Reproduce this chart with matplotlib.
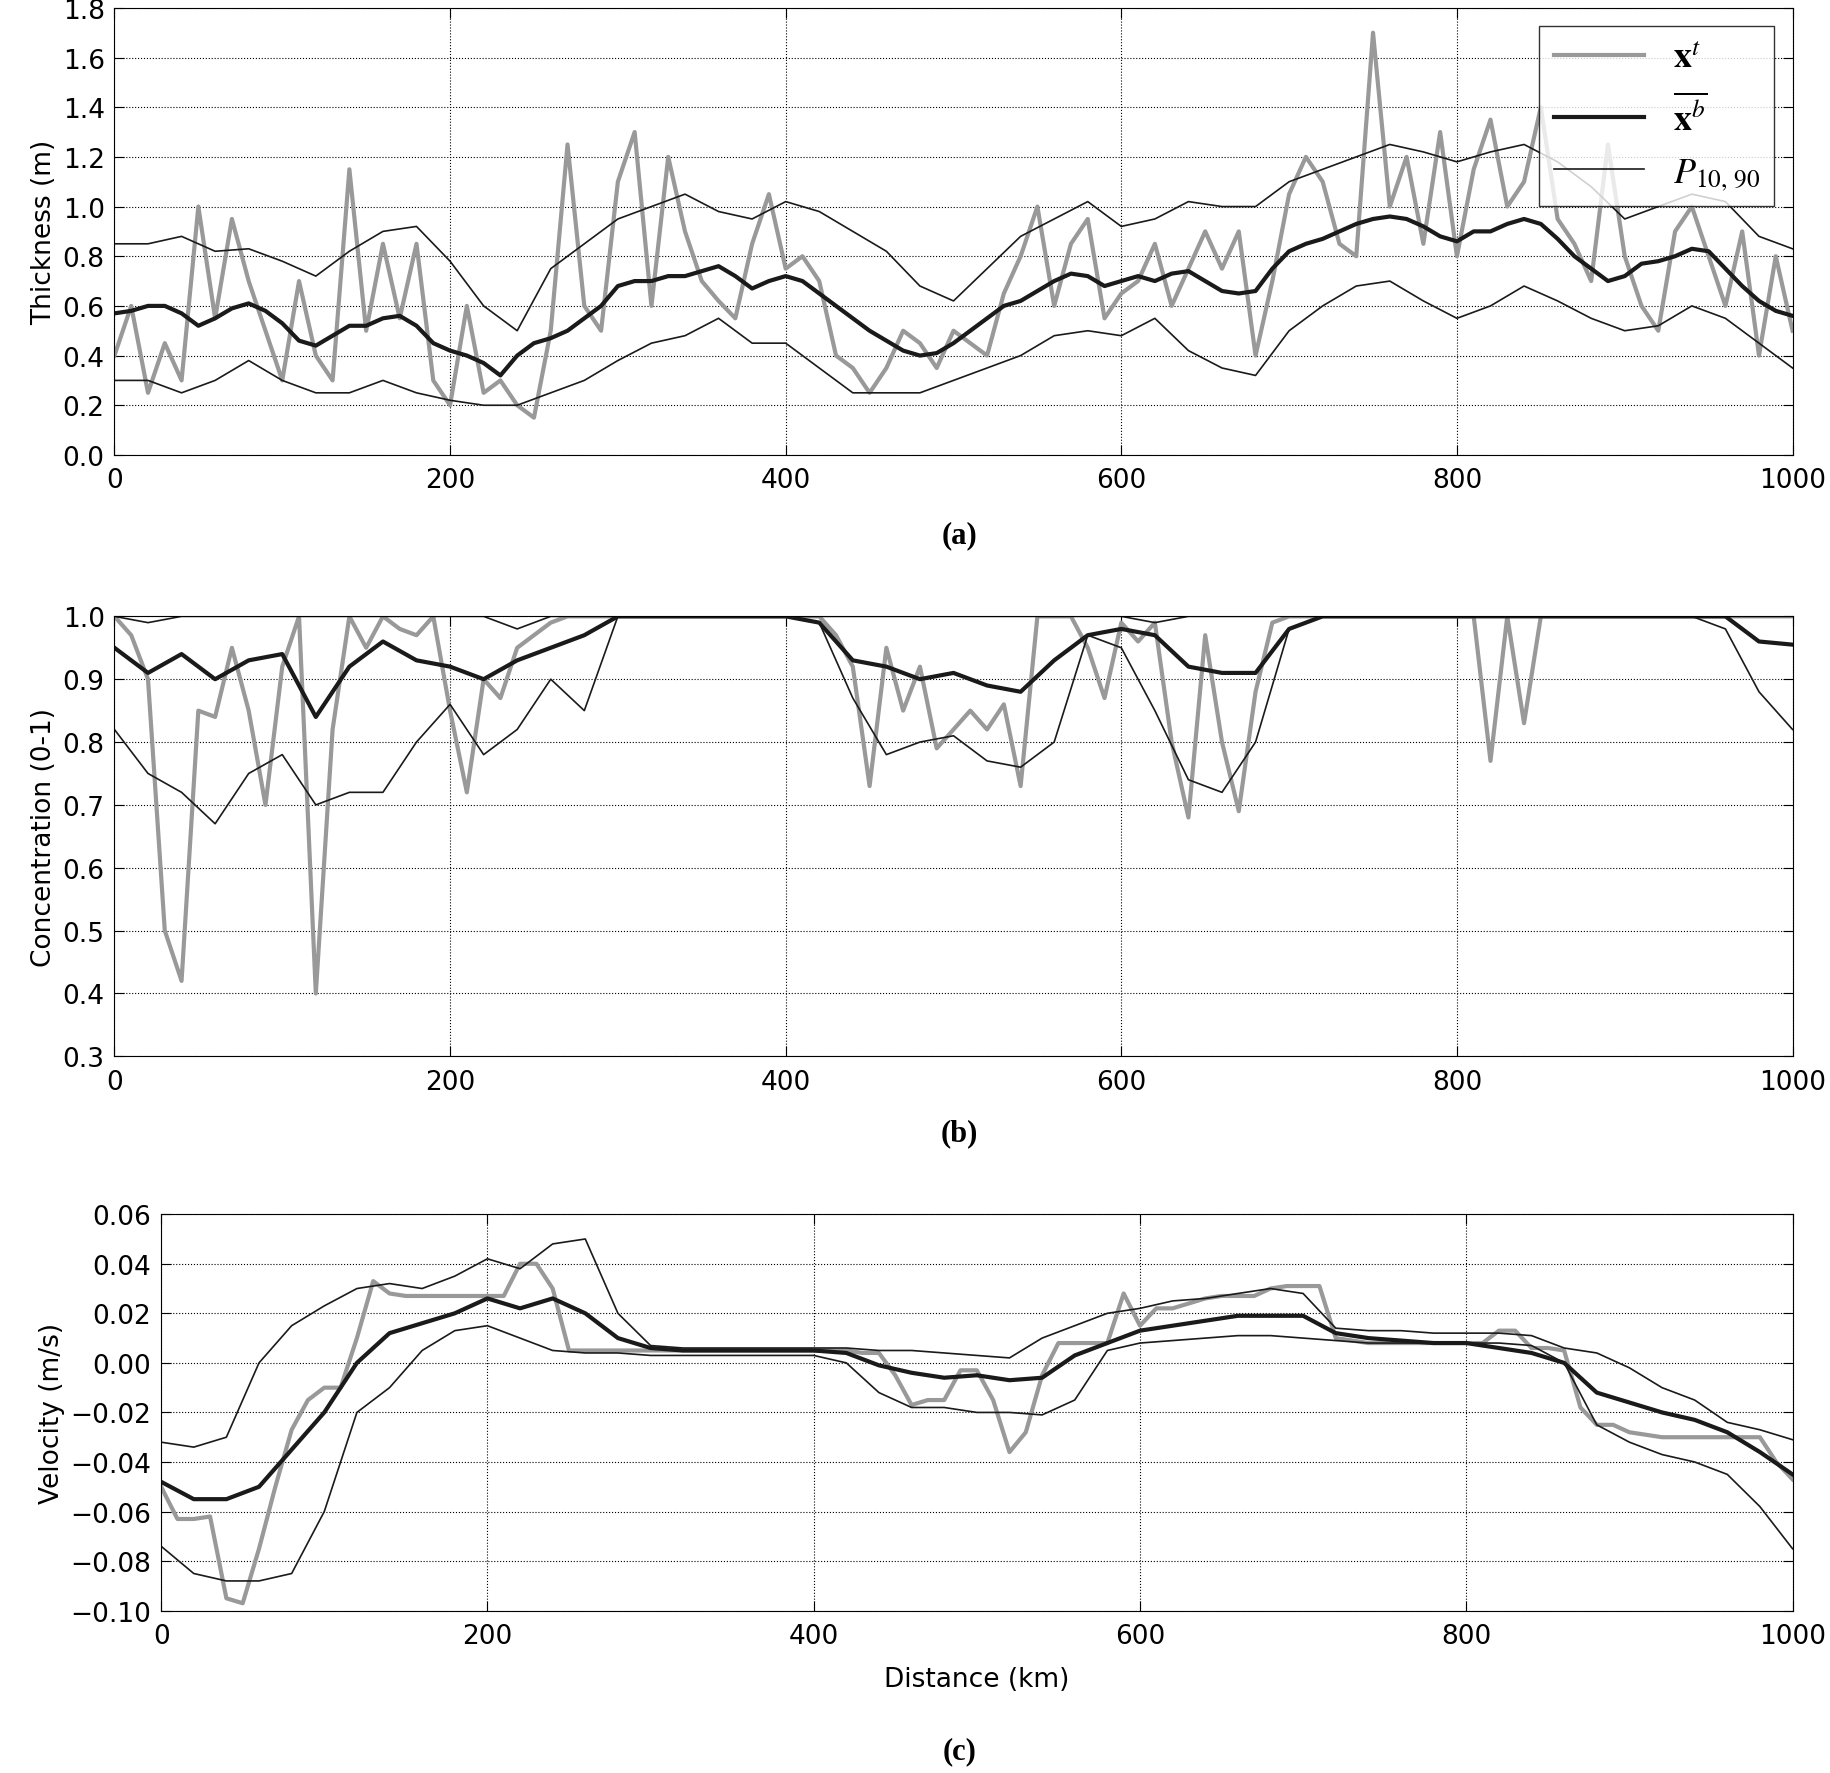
import numpy as np
import matplotlib.pyplot as plt

plt.rcParams['font.size'] = 19
plt.rcParams['mathtext.fontset'] = 'stix'
plt.rcParams['xtick.direction'] = 'in'
plt.rcParams['ytick.direction'] = 'in'
plt.rcParams['xtick.top'] = True
plt.rcParams['ytick.right'] = True
plt.rcParams['xtick.major.pad'] = 9
plt.rcParams['ytick.major.pad'] = 7
plt.rcParams['xtick.major.size'] = 7
plt.rcParams['ytick.major.size'] = 7

# (a) thickness
thick_mean = [0.57, 0.58, 0.6, 0.6, 0.57, 0.52, 0.55, 0.59, 0.61, 0.58, 0.53, 0.46, 0.44, 0.48, 0.52, 0.52, 0.55,
              0.56, 0.52, 0.45, 0.42, 0.4, 0.37, 0.32, 0.4, 0.45, 0.47, 0.5, 0.55, 0.6, 0.68, 0.7, 0.7, 0.72, 0.72,
              0.74, 0.76, 0.72, 0.67, 0.7, 0.72, 0.7, 0.65, 0.6, 0.55, 0.5, 0.46, 0.42, 0.4, 0.41, 0.45, 0.5, 0.55,
              0.6, 0.62, 0.66, 0.7, 0.73, 0.72, 0.68, 0.7, 0.72, 0.7, 0.73, 0.74, 0.7, 0.66, 0.65, 0.66, 0.75, 0.82,
              0.85, 0.87, 0.9, 0.93, 0.95, 0.96, 0.95, 0.92, 0.88, 0.86, 0.9, 0.9, 0.93, 0.95, 0.93, 0.87, 0.8, 0.75,
              0.7, 0.72, 0.77, 0.78, 0.8, 0.83, 0.82, 0.75, 0.68, 0.62, 0.58, 0.56]
thick_p90 = [0.85, 0.85, 0.88, 0.82, 0.83, 0.78, 0.72, 0.82, 0.9, 0.92, 0.78, 0.6, 0.5, 0.75, 0.85, 0.95, 1.0, 1.05,
             0.98, 0.95, 1.02, 0.98, 0.9, 0.82, 0.68, 0.62, 0.75, 0.88, 0.95, 1.02, 0.92, 0.95, 1.02, 1.0, 1.0, 1.1,
             1.15, 1.2, 1.25, 1.22, 1.18, 1.22, 1.25, 1.18, 1.08, 0.95, 1.0, 1.05, 1.02, 0.88, 0.83]
thick_p10 = [0.3, 0.3, 0.25, 0.3, 0.38, 0.3, 0.25, 0.25, 0.3, 0.25, 0.22, 0.2, 0.2, 0.25, 0.3, 0.38, 0.45, 0.48,
             0.55, 0.45, 0.45, 0.35, 0.25, 0.25, 0.25, 0.3, 0.35, 0.4, 0.48, 0.5, 0.48, 0.55, 0.42, 0.35, 0.32, 0.5,
             0.6, 0.68, 0.7, 0.62, 0.55, 0.6, 0.68, 0.62, 0.55, 0.5, 0.52, 0.6, 0.55, 0.45, 0.35]
thick_true = [0.4, 0.6, 0.25, 0.45, 0.3, 1.0, 0.55, 0.95, 0.7, 0.5, 0.3, 0.7, 0.4, 0.3, 1.15, 0.5, 0.85, 0.55, 0.85,
              0.3, 0.2, 0.6, 0.25, 0.3, 0.2, 0.15, 0.5, 1.25, 0.6, 0.5, 1.1, 1.3, 0.6, 1.2, 0.9, 0.7, 0.62, 0.55,
              0.85, 1.05, 0.75, 0.8, 0.7, 0.4, 0.35, 0.25, 0.35, 0.5, 0.45, 0.35, 0.5, 0.45, 0.4, 0.65, 0.8, 1.0,
              0.6, 0.85, 0.95, 0.55, 0.65, 0.7, 0.85, 0.6, 0.75, 0.9, 0.75, 0.9, 0.4, 0.7, 1.05, 1.2, 1.1, 0.85,
              0.8, 1.7, 1.0, 1.2, 0.85, 1.3, 0.8, 1.15, 1.35, 1.0, 1.1, 1.4, 0.95, 0.85, 0.7, 1.25, 0.8, 0.6, 0.5,
              0.9, 1.0, 0.8, 0.6, 0.9, 0.4, 0.8, 0.5]

# (b) concentration
conc_mean = [0.95, 0.91, 0.94, 0.9, 0.93, 0.94, 0.84, 0.92, 0.96, 0.93, 0.92, 0.9, 0.93, 0.95, 0.97, 1.0, 1.0, 1.0,
             1.0, 1.0, 1.0, 0.99, 0.93, 0.92, 0.9, 0.91, 0.89, 0.88, 0.93, 0.97, 0.98, 0.97, 0.92, 0.91, 0.91, 0.98,
             1.0, 1.0, 1.0, 1.0, 1.0, 1.0, 1.0, 1.0, 1.0, 1.0, 1.0, 1.0, 1.0, 0.96, 0.955]
conc_p90 = [1.0, 0.99, 1.0, 1.0, 1.0, 1.0, 1.0, 1.0, 1.0, 1.0, 1.0, 1.0, 0.98, 1.0, 1.0, 1.0, 1.0, 1.0, 1.0, 1.0,
            1.0, 1.0, 1.0, 1.0, 1.0, 1.0, 1.0, 1.0, 1.0, 1.0, 1.0, 0.99, 1.0, 1.0, 1.0, 1.0, 1.0, 1.0, 1.0, 1.0,
            1.0, 1.0, 1.0, 1.0, 1.0, 1.0, 1.0, 1.0, 1.0, 1.0, 1.0]
conc_p10 = [0.82, 0.75, 0.72, 0.67, 0.75, 0.78, 0.7, 0.72, 0.72, 0.8, 0.86, 0.78, 0.82, 0.9, 0.85, 1.0, 1.0, 1.0,
            1.0, 1.0, 1.0, 0.99, 0.87, 0.78, 0.8, 0.81, 0.77, 0.76, 0.8, 0.97, 0.95, 0.85, 0.74, 0.72, 0.8, 0.98,
            1.0, 1.0, 1.0, 1.0, 1.0, 1.0, 1.0, 1.0, 1.0, 1.0, 1.0, 1.0, 0.98, 0.88, 0.82]
conc_true = [1.0, 0.97, 0.9, 0.5, 0.42, 0.85, 0.84, 0.95, 0.85, 0.7, 0.92, 1.0, 0.4, 0.82, 1.0, 0.95, 1.0, 0.98,
             0.97, 1.0, 0.85, 0.72, 0.9, 0.87, 0.95, 0.97, 0.99, 1.0, 1.0, 1.0, 1.0, 1.0, 1.0, 1.0, 1.0, 1.0, 1.0,
             1.0, 1.0, 1.0, 1.0, 1.0, 1.0, 0.97, 0.92, 0.73, 0.95, 0.85, 0.92, 0.79, 0.82, 0.85, 0.82, 0.86, 0.73,
             1.0, 1.0, 1.0, 0.95, 0.87, 0.99, 0.96, 0.99, 0.8, 0.68, 0.97, 0.8, 0.69, 0.88, 0.99, 1.0, 1.0, 1.0,
             1.0, 1.0, 1.0, 1.0, 1.0, 1.0, 1.0, 1.0, 1.0, 0.77, 1.0, 0.83, 1.0, 1.0, 1.0, 1.0, 1.0, 1.0, 1.0, 1.0,
             1.0, 1.0, 1.0, 1.0, 1.0, 1.0, 1.0, 1.0]

# (c) velocity
vel_mean = [-0.048, -0.055, -0.055, -0.05, -0.035, -0.02, 0.0, 0.012, 0.016, 0.02, 0.026, 0.022, 0.026, 0.02, 0.01,
            0.006, 0.005, 0.005, 0.005, 0.005, 0.005, 0.004, -0.001, -0.004, -0.006, -0.005, -0.007, -0.006, 0.003,
            0.008, 0.013, 0.015, 0.017, 0.019, 0.019, 0.019, 0.012, 0.01, 0.009, 0.008, 0.008, 0.006, 0.004, 0.0,
            -0.012, -0.016, -0.02, -0.023, -0.028, -0.036, -0.045]
vel_p90 = [-0.032, -0.034, -0.03, 0.0, 0.015, 0.023, 0.03, 0.032, 0.03, 0.035, 0.042, 0.038, 0.048, 0.05, 0.02,
           0.007, 0.006, 0.006, 0.006, 0.006, 0.006, 0.006, 0.005, 0.005, 0.004, 0.003, 0.002, 0.01, 0.015, 0.02,
           0.022, 0.025, 0.026, 0.028, 0.03, 0.028, 0.014, 0.013, 0.013, 0.012, 0.012, 0.012, 0.011, 0.006, 0.004,
           -0.002, -0.01, -0.015, -0.024, -0.027, -0.031]
vel_p10 = [-0.074, -0.085, -0.088, -0.088, -0.085, -0.06, -0.02, -0.01, 0.005, 0.013, 0.015, 0.01, 0.005, 0.004,
           0.004, 0.003, 0.003, 0.003, 0.003, 0.003, 0.003, 0.0, -0.012, -0.018, -0.018, -0.02, -0.02, -0.021,
           -0.015, 0.005, 0.008, 0.009, 0.01, 0.011, 0.011, 0.01, 0.009, 0.008, 0.008, 0.008, 0.008, 0.008, 0.007,
           0.0, -0.025, -0.032, -0.037, -0.04, -0.045, -0.058, -0.075]
vel_true = [-0.05, -0.063, -0.063, -0.062, -0.095, -0.097, -0.075, -0.05, -0.027, -0.015, -0.01, -0.01, 0.01,
            0.033, 0.028, 0.027, 0.027, 0.027, 0.027, 0.027, 0.027, 0.027, 0.04, 0.04, 0.03, 0.005, 0.005, 0.005,
            0.005, 0.005, 0.005, 0.005, 0.005, 0.005, 0.005, 0.005, 0.005, 0.005, 0.005, 0.005, 0.005, 0.005,
            0.005, 0.004, 0.004, -0.005, -0.017, -0.015, -0.015, -0.003, -0.003, -0.015, -0.036, -0.028, -0.005,
            0.008, 0.008, 0.008, 0.008, 0.028, 0.015, 0.022, 0.022, 0.024, 0.026, 0.027, 0.027, 0.027, 0.03, 0.031,
            0.031, 0.031, 0.01, 0.009, 0.008, 0.008, 0.008, 0.008, 0.008, 0.008, 0.008, 0.008, 0.013, 0.013, 0.006,
            0.006, 0.005, -0.018, -0.025, -0.025, -0.028, -0.029, -0.03, -0.03, -0.03, -0.03, -0.03, -0.03, -0.03,
            -0.04, -0.047]

fig = plt.figure(figsize=(18.31, 17.74), dpi=100)
axa = fig.add_axes([0.0625, 0.743, 0.9165, 0.252])
axb = fig.add_axes([0.0625, 0.404, 0.9165, 0.248])
axc = fig.add_axes([0.088, 0.0915, 0.891, 0.2235])


def dist(vals):
    # distances of the samples along the line, 0 to 1000 km
    return np.linspace(0, 1000, len(vals))


gray = '#999999'
for ax, tr, mn, lo, hi in [(axa, thick_true, thick_mean, thick_p10, thick_p90),
                           (axb, conc_true, conc_mean, conc_p10, conc_p90),
                           (axc, vel_true, vel_mean, vel_p10, vel_p90)]:
    ax.plot(dist(tr), tr, color=gray, lw=3, label=r'$\mathbf{x}^t$')
    ax.plot(dist(mn), mn, color='#1a1a1a', lw=3, label=r'$\overline{\mathbf{x}^b}$')
    ax.plot(dist(lo), lo, color='#1a1a1a', lw=1.2, label=r'$P_{10,\,90}$')
    ax.plot(dist(hi), hi, color='#1a1a1a', lw=1.2)
    ax.set_xlim(0, 1000)
    ax.grid(True, color='black', linestyle=':', lw=0.8)

axa.set_ylim(0, 1.8)
axa.set_yticks(np.arange(0, 1.81, 0.2))
axa.set_ylabel('Thickness (m)')
axa.legend(loc='upper right', fontsize=26, fancybox=False, edgecolor='black', handlelength=2.5)
axb.set_ylim(0.3, 1.0)
axb.set_ylabel('Concentration (0-1)')
axc.set_ylim(-0.1, 0.06)
axc.set_yticks(np.arange(-0.1, 0.061, 0.02))
axc.set_yticklabels(['\u22120.10', '\u22120.08', '\u22120.06', '\u22120.04', '\u22120.02',
                     '0.00', '0.02', '0.04', '0.06'])
axc.set_ylabel('Velocity (m/s)')
axc.set_xlabel('Distance (km)', labelpad=12)

for lab, y in [('(a)', 0.698), ('(b)', 0.361), ('(c)', 0.0125)]:
    fig.text(0.524, y, lab, ha='center', va='center', fontsize=22, fontweight='bold', family='Liberation Serif')

fig.savefig('out.png')
